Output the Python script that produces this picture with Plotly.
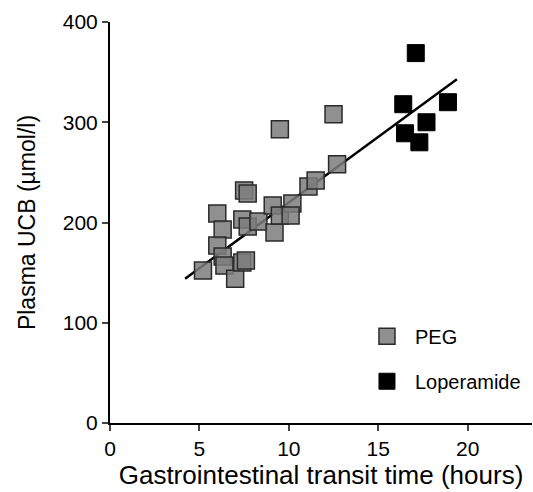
import plotly.graph_objects as go

# PEG group (transit time in hours, plasma UCB in umol/l)
peg_x = [5.2, 6.0, 6.3, 6.0, 6.3, 6.4, 7.0, 7.4, 7.6, 7.5, 7.7, 7.4, 7.7, 8.3,
         9.1, 9.2, 9.5, 10.2, 10.1, 9.5, 11.1, 11.5, 12.7, 12.5]
peg_y = [152, 209, 193, 177, 166, 157, 144, 160, 162, 232, 229, 203, 196, 201,
         217, 190, 207, 219, 207, 293, 236, 242, 258, 308]

# Loperamide group
lop_x = [17.1, 16.4, 18.9, 17.7, 16.5, 17.3]
lop_y = [369, 318, 320, 300, 289, 280]

# Regression line end points
fit_x = [4.2, 19.4]
fit_y = [144, 343]

x_ticks = [0, 5, 10, 15, 20]
y_ticks = [0, 100, 200, 300, 400]

FONT = "Liberation Sans, Arial, sans-serif"

fig = go.Figure()
fig.add_trace(go.Scatter(x=fit_x, y=fit_y, mode="lines",
                         line=dict(color="black", width=2.5), showlegend=False,
                         hoverinfo="skip"))
fig.add_trace(go.Scatter(x=peg_x, y=peg_y, mode="markers", name="PEG",
                         legendgroup="a",
                         marker=dict(symbol="square", size=17,
                                     color="rgba(125,125,125,0.85)",
                                     line=dict(color="#2a2a2a", width=1.5))))
fig.add_trace(go.Scatter(x=lop_x, y=lop_y, mode="markers", name="Loperamide",
                         legendgroup="b",
                         marker=dict(symbol="square", size=17, color="black",
                                     line=dict(color="black", width=1))))

fig.update_layout(
    width=533, height=492,
    margin=dict(l=110, r=1, t=22, b=69),
    plot_bgcolor="white", paper_bgcolor="white",
    font=dict(family=FONT, color="black", size=20),
    legend=dict(x=0.59, y=0.265, xanchor="left", yanchor="top",
                font=dict(size=20), tracegroupgap=16, itemwidth=46,
                bgcolor="rgba(0,0,0,0)"),
    xaxis=dict(range=[0, 23.6], tickvals=x_ticks, ticks="outside", ticklen=6,
               tickwidth=2, showline=True, linecolor="black", linewidth=2,
               showgrid=False, zeroline=False, tickfont=dict(size=21),
               title=dict(text="Gastrointestinal transit time (hours)",
                          font=dict(size=26), standoff=4)),
    yaxis=dict(range=[0, 400], tickvals=y_ticks, ticks="outside", ticklen=6,
               tickwidth=2, showline=True, linecolor="black", linewidth=2,
               showgrid=False, zeroline=False, tickfont=dict(size=21),
               title=dict(text="Plasma UCB (µmol/l)", font=dict(size=23),
                          standoff=21)),
)

fig.write_html("out.html")
